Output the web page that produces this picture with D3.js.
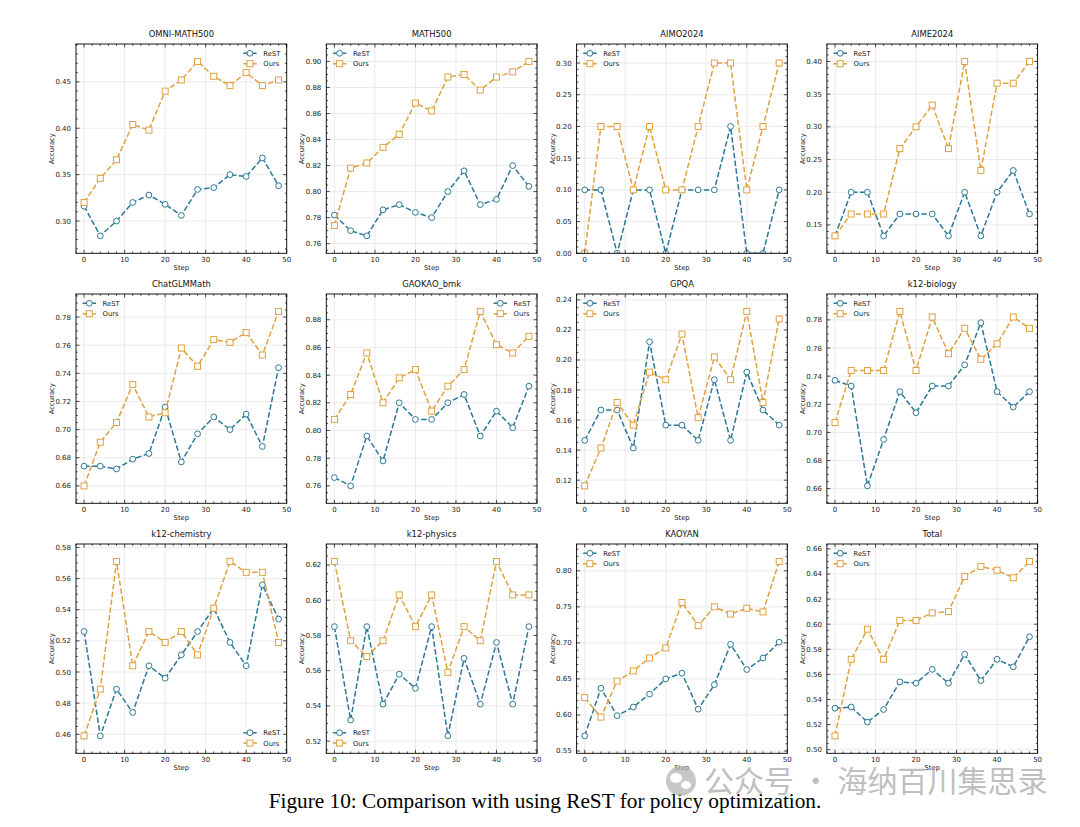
<!DOCTYPE html>
<html><head><meta charset="utf-8">
<script src="https://cdn.jsdelivr.net/npm/d3@7"></script>
<style>body{margin:0;background:#fff}svg{display:block}</style>
</head><body>
<svg id="chart" width="1080" height="827"></svg>
<script>
const steps = [0,4,8,12,16,20,24,28,32,36,40,44,48];
const titles = ["OMNI-MATH500","MATH500","AIMO2024","AIME2024","ChatGLMMath","GAOKAO_bmk","GPQA","k12-biology","k12-chemistry","k12-physics","KAOYAN","Total"];
const seriesNames = ["ReST","Ours"];
const restValues = [
  [0.316,0.284,0.300,0.320,0.328,0.318,0.306,0.334,0.336,0.350,0.348,0.368,0.338],
  [0.782,0.770,0.766,0.786,0.790,0.784,0.780,0.800,0.816,0.790,0.794,0.820,0.804],
  [0.10,0.10,0.00,0.10,0.10,0.00,0.10,0.10,0.10,0.20,0.00,0.00,0.10],
  [0.1333,0.2,0.2,0.1333,0.1667,0.1667,0.1667,0.1333,0.2,0.1333,0.2,0.2333,0.1667],
  [0.674,0.674,0.672,0.679,0.683,0.716,0.677,0.697,0.709,0.700,0.711,0.688,0.744],
  [0.766,0.760,0.796,0.778,0.820,0.808,0.808,0.820,0.826,0.796,0.814,0.802,0.832],
  [0.1465,0.1667,0.1667,0.1414,0.2121,0.1566,0.1566,0.1465,0.1869,0.1465,0.1919,0.1667,0.1566],
  [0.737,0.733,0.662,0.695,0.729,0.714,0.733,0.733,0.748,0.778,0.729,0.718,0.729],
  [0.526,0.459,0.489,0.474,0.504,0.496,0.511,0.526,0.541,0.519,0.504,0.556,0.534],
  [0.585,0.532,0.585,0.541,0.558,0.550,0.585,0.523,0.567,0.541,0.576,0.541,0.585],
  [0.571,0.637,0.599,0.611,0.629,0.650,0.658,0.608,0.642,0.698,0.663,0.679,0.701],
  [0.533,0.534,0.522,0.532,0.554,0.553,0.564,0.553,0.576,0.555,0.572,0.566,0.590]
];
const oursValues = [
  [0.320,0.346,0.366,0.404,0.398,0.440,0.452,0.472,0.456,0.446,0.460,0.446,0.452],
  [0.774,0.818,0.822,0.834,0.844,0.868,0.862,0.888,0.890,0.878,0.888,0.892,0.900],
  [0.00,0.20,0.20,0.10,0.20,0.10,0.10,0.20,0.30,0.30,0.10,0.20,0.30],
  [0.1333,0.1667,0.1667,0.1667,0.2667,0.3,0.3333,0.2667,0.4,0.2333,0.3667,0.3667,0.4],
  [0.660,0.691,0.705,0.732,0.709,0.712,0.758,0.745,0.764,0.762,0.769,0.753,0.784],
  [0.808,0.826,0.856,0.820,0.838,0.844,0.814,0.832,0.844,0.886,0.862,0.856,0.868],
  [0.1162,0.1414,0.1717,0.1566,0.1919,0.1869,0.2172,0.1616,0.2020,0.1869,0.2323,0.1717,0.2273],
  [0.707,0.744,0.744,0.744,0.786,0.744,0.782,0.756,0.774,0.752,0.763,0.782,0.774],
  [0.459,0.489,0.571,0.504,0.526,0.519,0.526,0.511,0.541,0.571,0.564,0.564,0.519],
  [0.622,0.577,0.568,0.577,0.603,0.585,0.603,0.559,0.585,0.577,0.622,0.603,0.603],
  [0.624,0.597,0.647,0.661,0.679,0.693,0.756,0.724,0.750,0.740,0.748,0.743,0.813],
  [0.511,0.572,0.596,0.572,0.603,0.603,0.609,0.610,0.638,0.646,0.643,0.637,0.650]
];
const yTickSteps = [0.05,0.02,0.05,0.05,0.02,0.02,0.02,0.02,0.02,0.02,0.05,0.02];
const xTicks = [0,10,20,30,40,50];
const legendLocs = ["upper right","upper left","upper left","upper left","upper left","upper right","upper left","upper left","lower right","lower left","upper left","upper left"];
const xLabel = "Step", yLabel = "Accuracy";
const caption = "Figure 10: Comparison with using ReST for policy optimization.";
const watermark = "公众号 · 海纳百川集思录";

const colors = ["#2b7896", "#e0a13f"];
const font = "DejaVu Sans, sans-serif";
const svg = d3.select("#chart");
svg.append("rect").attr("width",1080).attr("height",827).attr("fill","#fff");

const W = 210.7, H = 209.3;
titles.forEach((title, i) => {
  const col = i % 4, row = Math.floor(i / 4);
  const left = 76 + col * 250.3, top = 44 + row * 250;
  const g = svg.append("g");
  const x = d3.scaleLinear().domain([-2, 50]).range([left, left + W]);
  const all = restValues[i].concat(oursValues[i]);
  const mn = d3.min(all), mx = d3.max(all), r = mx - mn;
  const y = d3.scaleLinear().domain([Math.max(0, mn - 0.1 * r), mx + 0.1 * r]).range([top + H, top]);
  const st = yTickSteps[i];
  const [lo, hi] = y.domain();
  const yMajor = d3.range(Math.ceil(lo / st - 1e-9), Math.floor(hi / st + 1e-9) + 1).map(k => +(k * st).toFixed(4));
  const nDiv = Math.abs(st - 0.02) < 1e-9 ? 4 : 5;
  const mst = st / nDiv;
  const yMinor = d3.range(Math.ceil(lo / mst), Math.floor(hi / mst) + 1).map(k => k * mst).filter(v => !yMajor.some(m => Math.abs(m - v) < 1e-7));
  const xMinor = d3.range(-2, 50.01, 2).filter(v => !xTicks.includes(v));

  // grid
  g.selectAll(null).data(xTicks).join("line")
    .attr("x1", d => x(d)).attr("x2", d => x(d)).attr("y1", top).attr("y2", top + H)
    .attr("stroke", "#e6e6e6").attr("stroke-width", 0.8);
  g.selectAll(null).data(yMajor).join("line")
    .attr("y1", d => y(d)).attr("y2", d => y(d)).attr("x1", left).attr("x2", left + W)
    .attr("stroke", "#e6e6e6").attr("stroke-width", 0.8);

  const clipId = "clip" + i;
  svg.append("clipPath").attr("id", clipId).append("rect")
    .attr("x", left).attr("y", top).attr("width", W).attr("height", H);
  const pg = g.append("g").attr("clip-path", `url(#${clipId})`);
  [restValues[i], oursValues[i]].forEach((vals, s) => {
    const pts = steps.map((st, k) => [st, vals[k]]);
    pg.append("path").datum(pts)
      .attr("d", d3.line().x(d => x(d[0])).y(d => y(d[1])))
      .attr("fill", "none").attr("stroke", colors[s]).attr("stroke-width", 1.5)
      .attr("stroke-dasharray", "5.5,2.4");
    if (s === 0) {
      pg.selectAll(null).data(pts).join("circle")
        .attr("cx", d => x(d[0])).attr("cy", d => y(d[1])).attr("r", 2.9)
        .attr("fill", "#fff").attr("stroke", colors[s]).attr("stroke-width", 1);
    } else {
      pg.selectAll(null).data(pts).join("rect")
        .attr("x", d => x(d[0]) - 3).attr("y", d => y(d[1]) - 3).attr("width", 6).attr("height", 6)
        .attr("fill", "#fff").attr("stroke", colors[s]).attr("stroke-width", 1);
    }
  });

  // spines
  g.append("rect").attr("x", left).attr("y", top).attr("width", W).attr("height", H)
    .attr("fill", "none").attr("stroke", "#000").attr("stroke-width", 0.9);

  // ticks (inward, all sides)
  const tk = (vals, len, horiz) => {
    vals.forEach(v => {
      if (horiz) {
        const px = x(v);
        g.append("line").attr("x1", px).attr("x2", px).attr("y1", top + H).attr("y2", top + H - len).attr("stroke", "#000").attr("stroke-width", 0.7);
        g.append("line").attr("x1", px).attr("x2", px).attr("y1", top).attr("y2", top + len).attr("stroke", "#000").attr("stroke-width", 0.7);
      } else {
        const py = y(v);
        g.append("line").attr("y1", py).attr("y2", py).attr("x1", left).attr("x2", left + len).attr("stroke", "#000").attr("stroke-width", 0.7);
        g.append("line").attr("y1", py).attr("y2", py).attr("x1", left + W).attr("x2", left + W - len).attr("stroke", "#000").attr("stroke-width", 0.7);
      }
    });
  };
  tk(xTicks, 3.5, true); tk(xMinor, 1.8, true);
  tk(yMajor, 3.5, false); tk(yMinor, 1.8, false);

  // tick labels
  g.selectAll(null).data(xTicks).join("text")
    .attr("x", d => x(d)).attr("y", top + H + 8.5).attr("text-anchor", "middle")
    .attr("font-family", font).attr("font-size", 7).attr("fill", "#222").text(d => d);
  g.selectAll(null).data(yMajor).join("text")
    .attr("x", left - 5).attr("y", d => y(d) + 2.5).attr("text-anchor", "end")
    .attr("font-family", font).attr("font-size", 7).attr("fill", "#222").text(d => d3.format(".2f")(d));

  // labels
  g.append("text").attr("x", left + W / 2).attr("y", top - 7).attr("text-anchor", "middle")
    .attr("font-family", font).attr("font-size", 8.4).attr("fill", "#111").text(title);
  g.append("text").attr("x", left + W / 2).attr("y", top + H + 17).attr("text-anchor", "middle")
    .attr("font-family", font).attr("font-size", 6.8).attr("fill", "#222").text(xLabel);
  g.append("text").attr("transform", `translate(${left - 22},${top + H / 2}) rotate(-90)`)
    .attr("text-anchor", "middle").attr("font-family", font).attr("font-size", 6.8).attr("fill", "#222").text(yLabel);

  // legend
  const loc = legendLocs[i];
  const lx = loc.includes("right") ? left + W - 43.4 : left + 6.6;
  const ly = loc.includes("upper") ? top + 9.3 : top + H - 20.6;
  seriesNames.forEach((name, s) => {
    const yy = ly + s * 10.4;
    g.append("line").attr("x1", lx).attr("x2", lx + 13.4).attr("y1", yy).attr("y2", yy)
      .attr("stroke", colors[s]).attr("stroke-width", 1.5).attr("stroke-dasharray", "5.5,2.4");
    if (s === 0) g.append("circle").attr("cx", lx + 6.7).attr("cy", yy).attr("r", 2.9).attr("fill", "#fff").attr("stroke", colors[s]);
    else g.append("rect").attr("x", lx + 3.7).attr("y", yy - 3).attr("width", 6).attr("height", 6).attr("fill", "#fff").attr("stroke", colors[s]);
    g.append("text").attr("x", lx + 20).attr("y", yy + 2.4).attr("font-family", font).attr("font-size", 6.8).attr("fill", "#222").text(name);
  });
});

svg.append("text").attr("x", 545).attr("y", 808).attr("text-anchor", "middle")
  .attr("font-family", "Liberation Serif, Times New Roman, serif").attr("font-size", 21.3).attr("fill", "#000").text(caption);

// watermark
const wm = svg.append("g").attr("opacity", 0.75);
wm.append("circle").attr("cx", 681).attr("cy", 781).attr("r", 15).attr("fill", "#b5b5b5");
wm.append("ellipse").attr("cx", 676).attr("cy", 778).attr("rx", 6).attr("ry", 5).attr("fill", "#fff");
wm.append("ellipse").attr("cx", 686).attr("cy", 785).attr("rx", 5).attr("ry", 4).attr("fill", "#fff");
wm.append("text").attr("x", 704).attr("y", 792).attr("font-family", "Noto Sans CJK SC, sans-serif")
  .attr("font-size", 30).attr("fill", "#aaaaaa").text(watermark);
</script>
</body></html>
